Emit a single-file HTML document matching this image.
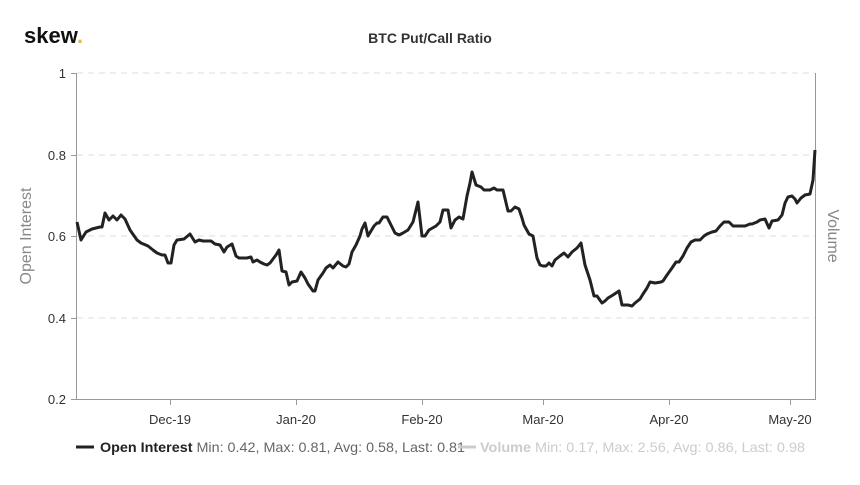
<!DOCTYPE html>
<html><head><meta charset="utf-8"><style>
body{margin:0;background:#fff;width:860px;height:480px;overflow:hidden;font-family:"Liberation Sans",sans-serif}
</style></head><body>
<svg width="860" height="480" xmlns="http://www.w3.org/2000/svg" font-family="Liberation Sans, sans-serif">
<text x="24" y="43" font-size="22" font-weight="bold" fill="#111">skew<tspan fill="#e8b84a">.</tspan></text>
<text x="430" y="43" font-size="14" font-weight="bold" text-anchor="middle" fill="#333">BTC Put/Call Ratio</text>
<g stroke="#ddd" stroke-dasharray="6,5" stroke-width="1">
<line x1="77" y1="73" x2="815" y2="73"/><line x1="77" y1="155" x2="815" y2="155"/>
<line x1="77" y1="236" x2="815" y2="236"/><line x1="77" y1="318" x2="815" y2="318"/>
</g>
<line x1="76.5" y1="73" x2="76.5" y2="399" stroke="#999"/>
<line x1="815.5" y1="73" x2="815.5" y2="399" stroke="#999"/>
<line x1="76" y1="399.5" x2="816" y2="399.5" stroke="#999"/>
<g stroke="#999"><line x1="71" y1="73.5" x2="76" y2="73.5"/><line x1="71" y1="155.5" x2="76" y2="155.5"/><line x1="71" y1="236.5" x2="76" y2="236.5"/><line x1="71" y1="318.5" x2="76" y2="318.5"/><line x1="71" y1="399.5" x2="76" y2="399.5"/>
<line x1="170.5" y1="399" x2="170.5" y2="405"/><line x1="296.5" y1="399" x2="296.5" y2="405"/><line x1="422.5" y1="399" x2="422.5" y2="405"/><line x1="543.5" y1="399" x2="543.5" y2="405"/><line x1="669.5" y1="399" x2="669.5" y2="405"/><line x1="790.5" y1="399" x2="790.5" y2="405"/></g>
<g font-size="13" fill="#333" text-anchor="end">
<text x="66" y="78">1</text><text x="66" y="160">0.8</text><text x="66" y="241">0.6</text><text x="66" y="323">0.4</text><text x="66" y="404">0.2</text></g>
<g font-size="13" fill="#333" text-anchor="middle">
<text x="170" y="424">Dec-19</text><text x="296" y="424">Jan-20</text><text x="422" y="424">Feb-20</text><text x="543" y="424">Mar-20</text><text x="669" y="424">Apr-20</text><text x="790" y="424">May-20</text></g>
<text transform="translate(31,236) rotate(-90)" font-size="16" fill="#888" text-anchor="middle">Open Interest</text>
<text transform="translate(828,236) rotate(90)" font-size="16" fill="#888" text-anchor="middle">Volume</text>
<polyline fill="none" stroke="#222" stroke-width="3" stroke-linejoin="round" points="77,222 81,240 86,232 92,229 100,227 102,227 105,213 109,220 113,216 117,220 121,215 125,219 130,230 137,240 141,243 148,246 153,250 157,253 162,255 165,255 168,263 171,263 174,245 177,240 184,239 190,234 195,242 199,240 203,241 211,241 215,244 220,245 224,252 227,247 232,244 236,256 239,258 247,258 251,257 253,262 257,260 260,262 264,264 267,265 270,263 276,255 279,250 282,271 286,272 289,285 292,282 297,281 301,272 305,278 308,284 313,291 315,291 318,280 323,273 326,268 330,265 333,268 338,262 343,266 346,267 349,264 352,252 356,245 360,236 362,229 365,223 368,236 374,226 377,223 379,223 383,217 387,217 391,225 395,233 399,235 403,233 408,230 413,222 418,202 422,236 425,236 429,230 436,226 440,222 443,210 448,210 451,228 455,220 459,217 463,219 467,196 470,183 472,172 476,185 481,187 484,190 490,190 494,188 497,190 503,190 508,211 511,211 515,207 519,209 522,218 524,225 529,234 533,236 537,258 540,265 543,266 546,266 549,263 552,266 555,260 560,256 564,253 568,257 572,252 577,248 581,243 585,265 590,280 594,296 597,296 602,303 605,301 608,298 613,295 619,291 622,305 628,305 632,306 635,303 640,299 643,294 647,288 650,282 655,283 661,282 663,281 667,275 672,268 676,262 679,262 683,256 687,248 691,242 695,240 700,240 704,236 707,234 712,232 716,231 720,226 724,222 729,222 733,226 745,226 750,224 752,224 757,222 760,220 765,219 769,228 772,221 778,220 782,215 785,203 788,197 792,196 795,199 797,203 801,198 805,195 810,194 813,180 815,150"/>
<line x1="76" y1="447" x2="94" y2="447" stroke="#222" stroke-width="3"/>
<text x="100" y="452" font-size="14" textLength="365" lengthAdjust="spacingAndGlyphs"><tspan fill="#222" font-weight="bold">Open Interest</tspan><tspan fill="#666"> Min: 0.42, Max: 0.81, Avg: 0.58, Last: 0.81</tspan></text>
<line x1="458" y1="447" x2="476" y2="447" stroke="#ccc" stroke-width="3"/>
<text x="480" y="452" font-size="14" fill="#ccc" textLength="325" lengthAdjust="spacingAndGlyphs"><tspan font-weight="bold">Volume</tspan> Min: 0.17, Max: 2.56, Avg: 0.86, Last: 0.98</text>
</svg>
</body></html>
